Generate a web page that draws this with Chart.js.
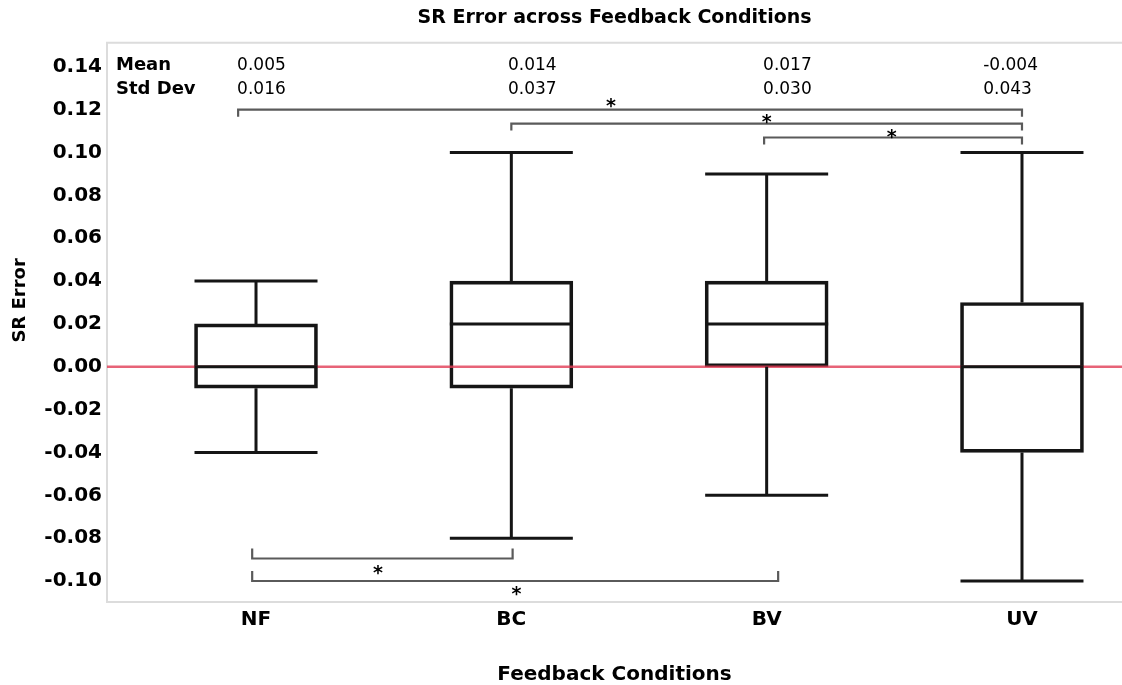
<!DOCTYPE html>
<html>
<head>
<meta charset="utf-8">
<title>SR Error across Feedback Conditions</title>
<script src="https://cdn.jsdelivr.net/npm/chart.js@4.4.1/dist/chart.umd.min.js"></script>
<style>
  html, body { margin: 0; padding: 0; background: #fff; }
  #wrap { width: 1122px; height: 685px; }
</style>
</head>
<body>
<div id="wrap"><canvas id="boxChart"></canvas></div>
<script>
const categories = ["NF", "BC", "BV", "UV"];
const whiskerHigh = [0.04, 0.10, 0.09, 0.10];
const upperQuartile = [0.02, 0.04, 0.04, 0.03];
const medians = [0.00, 0.02, 0.02, 0.00];
const lowerQuartile = [-0.01, -0.01, 0.00, -0.04];
const whiskerLow = [-0.04, -0.08, -0.06, -0.10];
const meanLabels = ["0.005", "0.014", "0.017", "-0.004"];
const stdDevLabels = ["0.016", "0.037", "0.030", "0.043"];
const yTickValues = [-0.10, -0.08, -0.06, -0.04, -0.02, 0.00, 0.02, 0.04, 0.06, 0.08, 0.10, 0.12, 0.14];

// where the summary numbers sit (x in category units, rows in y units)
const summaryX = [0.926, 1.987, 2.986, 3.848];
const meanRowY = 0.1405;
const stdRowY = 0.1293;

// significance brackets, ends in category units, level in y units
const brackets = [
  { from: 0.93, to: 4.0, level: 0.12, tick: 7, starX: 2.39, starY: 0.1237 },
  { from: 2.0, to: 4.0, level: 0.1135, tick: 7, starX: 3.0, starY: 0.1163 },
  { from: 2.99, to: 4.0, level: 0.107, tick: 7, starX: 3.49, starY: 0.1093 },
  { from: 0.985, to: 2.005, level: -0.0895, tick: -10, starX: 1.478, starY: -0.0943 },
  { from: 0.985, to: 3.045, level: -0.1, tick: -10, starX: 2.02, starY: -0.1041 }
];

const INK = "#151515";

const framePlugin = {
  id: "frame",
  beforeDatasetsDraw(chart) {
    const { ctx, chartArea } = chart;
    ctx.save();
    ctx.strokeStyle = "#dcdcdc";
    ctx.lineWidth = 2;
    ctx.beginPath();
    ctx.moveTo(chartArea.right, chartArea.top);
    ctx.lineTo(chartArea.left, chartArea.top);
    ctx.lineTo(chartArea.left, chartArea.bottom);
    ctx.lineTo(chartArea.right, chartArea.bottom);
    ctx.stroke();
    ctx.restore();
  }
};

const boxPlotPlugin = {
  id: "boxPlot",
  afterDatasetsDraw(chart) {
    const { ctx, chartArea, scales: { x, y } } = chart;
    const boxes = chart.getDatasetMeta(0).data;
    ctx.save();

    // zero reference line
    const zero = y.getPixelForValue(0);
    ctx.strokeStyle = "rgba(225, 60, 85, 0.8)";
    ctx.lineWidth = 2.5;
    ctx.beginPath();
    ctx.moveTo(chartArea.left, zero);
    ctx.lineTo(chartArea.right, zero);
    ctx.stroke();

    ctx.strokeStyle = INK;
    ctx.lineWidth = 3;
    ctx.lineCap = "butt";
    categories.forEach((name, i) => {
      const cx = x.getPixelForValue(i + 1);
      const half = boxes[i].width / 2;
      const hi = y.getPixelForValue(whiskerHigh[i]);
      const lo = y.getPixelForValue(whiskerLow[i]);
      const q3 = y.getPixelForValue(upperQuartile[i]);
      const q1 = y.getPixelForValue(lowerQuartile[i]);
      const md = y.getPixelForValue(medians[i]);
      ctx.beginPath();
      ctx.moveTo(cx, q3); ctx.lineTo(cx, hi);
      ctx.moveTo(cx, q1); ctx.lineTo(cx, lo);
      ctx.moveTo(cx - half, hi); ctx.lineTo(cx + half, hi);
      ctx.moveTo(cx - half, lo); ctx.lineTo(cx + half, lo);
      ctx.moveTo(cx - half, md); ctx.lineTo(cx + half, md);
      ctx.stroke();
    });

    // significance brackets
    ctx.strokeStyle = "#5a5a5a";
    ctx.lineWidth = 2.2;
    ctx.fillStyle = "#000";
    ctx.font = "bold 19px 'DejaVu Sans'";
    ctx.textAlign = "center";
    ctx.textBaseline = "alphabetic";
    brackets.forEach((b) => {
      const x0 = x.getPixelForValue(b.from);
      const x1 = x.getPixelForValue(b.to);
      const ly = y.getPixelForValue(b.level);
      ctx.beginPath();
      ctx.moveTo(x0, ly + b.tick);
      ctx.lineTo(x0, ly);
      ctx.lineTo(x1, ly);
      ctx.lineTo(x1, ly + b.tick);
      ctx.stroke();
      ctx.fillText("*", x.getPixelForValue(b.starX), y.getPixelForValue(b.starY) + 10);
    });

    // summary table
    ctx.textAlign = "left";
    ctx.textBaseline = "middle";
    ctx.fillStyle = "#000";
    ctx.font = "bold 18px 'DejaVu Sans'";
    ctx.fillText("Mean", chartArea.left + 9, y.getPixelForValue(meanRowY));
    ctx.fillText("Std Dev", chartArea.left + 9, y.getPixelForValue(stdRowY));
    ctx.font = "17px 'DejaVu Sans'";
    categories.forEach((name, i) => {
      const tx = x.getPixelForValue(summaryX[i]);
      ctx.fillText(meanLabels[i], tx, y.getPixelForValue(meanRowY));
      ctx.fillText(stdDevLabels[i], tx, y.getPixelForValue(stdRowY));
    });

    // y axis title, sitting a little above the middle of the plot
    ctx.translate(20, (chartArea.top + chartArea.bottom) / 2 - 22);
    ctx.rotate(-Math.PI / 2);
    ctx.textAlign = "center";
    ctx.font = "bold 18px 'DejaVu Sans'";
    ctx.fillText("SR Error", 0, 0);
    ctx.restore();
  }
};

Chart.defaults.font.family = "'DejaVu Sans', sans-serif";
Chart.defaults.color = "#000";

const context = document.getElementById("boxChart").getContext("2d");
new Chart(context, {
  type: "bar",
  data: {
    datasets: [
      {
        label: "IQR",
        data: categories.map((name, i) => ({ x: i + 1, y: [lowerQuartile[i], upperQuartile[i]] })),
        backgroundColor: "rgba(255,255,255,0)",
        borderColor: INK,
        borderWidth: 3,
        borderSkipped: false,
        barThickness: 123
      }
    ]
  },
  options: {
    responsive: true,
    maintainAspectRatio: false,
    animation: false,
    layout: { padding: { top: 0, right: 0, bottom: 0, left: 0 } },
    plugins: {
      legend: { display: false },
      tooltip: { enabled: false },
      title: {
        display: true,
        text: "SR Error across Feedback Conditions",
        fullSize: false,
        color: "#000",
        font: { size: 19, weight: "bold", lineHeight: 1.2 },
        padding: { top: 7, bottom: 13 }
      }
    },
    scales: {
      x: {
        type: "linear",
        offset: false,
        min: 0.4164,
        max: 4.3917,
        grid: { display: false, drawTicks: false, offset: false },
        border: { display: false },
        afterBuildTicks: (scale) => {
          scale.ticks = categories.map((name, i) => ({ value: i + 1 }));
        },
        afterFit: (scale) => { scale.height = 83; },
        ticks: {
          padding: 6,
          color: "#000",
          font: { size: 20, weight: "bold" },
          callback: (value) => categories[value - 1]
        },
        title: {
          display: true,
          text: "Feedback Conditions",
          color: "#000",
          font: { size: 20, weight: "bold", lineHeight: 1 },
          padding: { top: 0, bottom: 0 }
        }
      },
      y: {
        min: -0.1098,
        max: 0.1512,
        grid: { display: false, drawTicks: false },
        border: { display: false },
        afterBuildTicks: (scale) => {
          scale.ticks = yTickValues.map((value) => ({ value }));
        },
        afterFit: (scale) => { scale.width = 107; },
        ticks: {
          padding: 5,
          color: "#000",
          font: { size: 20, weight: "bold" },
          callback: (value) => value.toFixed(2)
        }
      }
    }
  },
  plugins: [framePlugin, boxPlotPlugin]
});
</script>
</body>
</html>
